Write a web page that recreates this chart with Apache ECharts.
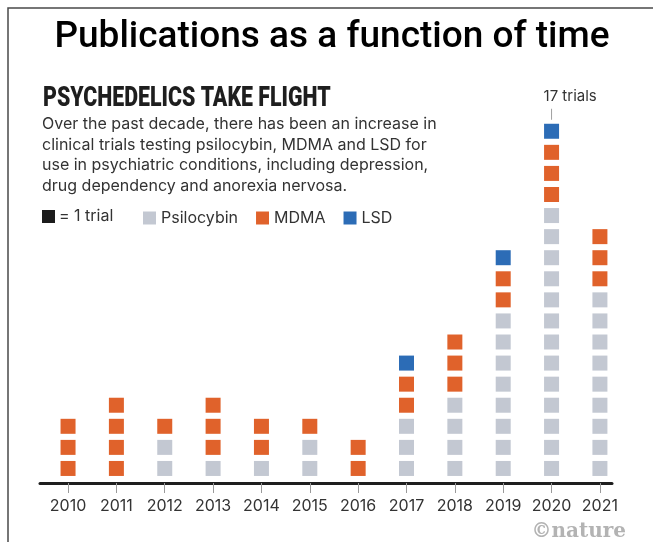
<!DOCTYPE html>
<html>
<head>
<meta charset="utf-8">
<title>Publications as a function of time</title>
<script src="https://cdn.jsdelivr.net/npm/echarts@6/dist/echarts.min.js"></script>
<style>
  html, body { margin: 0; padding: 0; background: #ffffff; }
  #chart { width: 653px; height: 542px; }
</style>
</head>
<body>
<div id="chart"></div>
<script>
// Clinical trials per year, one square per trial
const years = ['2010', '2011', '2012', '2013', '2014', '2015', '2016', '2017', '2018', '2019', '2020', '2021'];
const psilocybin = [0, 0, 2, 1, 1, 2, 0, 3, 4, 8, 13, 9];
const mdma = [3, 4, 1, 3, 2, 1, 2, 2, 3, 2, 3, 3];
const lsd = [0, 0, 0, 0, 0, 0, 0, 1, 0, 1, 1, 0];

const COLORS = { psilocybin: '#c3c8d2', mdma: '#e0622b', lsd: '#2c6cb6', unit: '#1c1c1c' };
const TEXT_FONT = 'Inter, "Noto Sans", sans-serif';
const SQUARE = 15;
const LIFT = 0.69; // centre of the bottom square above the baseline, in trial units

// stack squares for one drug on top of the drugs below it
function squares(counts, below) {
  const out = [];
  counts.forEach(function (n, i) {
    const base = below.reduce(function (s, arr) { return s + arr[i]; }, 0);
    for (let k = 0; k < n; k++) out.push([i, base + k + LIFT]);
  });
  return out;
}

const totals = years.map(function (_, i) { return psilocybin[i] + mdma[i] + lsd[i]; });
const peak = totals.indexOf(Math.max.apply(null, totals));

const chart = echarts.init(document.getElementById('chart'));

function squareSeries(name, data, color) {
  return {
    name: name,
    type: 'scatter',
    symbol: 'rect',
    symbolSize: SQUARE,
    data: data,
    itemStyle: { color: color, opacity: 1 },
    emphasis: { disabled: true },
    silent: true,
    z: 3
  };
}

chart.setOption({
  animation: false,
  backgroundColor: '#ffffff',
  grid: { left: 40, right: 41, top: 61.5, bottom: 59 },
  xAxis: {
    type: 'value',
    min: -0.58,
    max: 11.25,
    splitLine: { show: false },
    axisLine: { show: true, onZero: false, lineStyle: { color: '#1e1e1e', width: 3 } },
    axisTick: {
      show: true,
      customValues: years.map(function (_, i) { return i; }),
      length: 10,
      lineStyle: { color: '#9a9a9a', width: 1 }
    },
    axisLabel: {
      customValues: years.map(function (_, i) { return i; }),
      formatter: function (v) { return years[Math.round(v)]; },
      margin: 15,
      fontSize: 16,
      fontFamily: TEXT_FONT,
      color: '#333333'
    }
  },
  yAxis: {
    type: 'value',
    min: 0,
    max: 20,
    show: false,
    splitLine: { show: false }
  },
  legend: {
    left: 138,
    top: 205,
    icon: 'rect',
    itemWidth: 13,
    itemHeight: 13,
    itemGap: 18,
    selectedMode: false,
    textStyle: { fontSize: 16, fontFamily: TEXT_FONT, color: '#333333', padding: [0, 0, 0, 0] },
    data: ['Psilocybin', 'MDMA', 'LSD']
  },
  graphic: [
    // frame lines
    {
      type: 'polyline',
      shape: { points: [[8, 542], [8, 8], [653, 8]] },
      style: { stroke: '#4a4a4a', lineWidth: 1.5, fill: null },
      silent: true
    },
    {
      type: 'text',
      x: 332, y: 38,
      style: {
        text: 'Publications as a function of time',
        font: '500 37px Roboto, "Noto Sans", sans-serif',
        fill: '#000000',
        textAlign: 'center',
        textVerticalAlign: 'middle'
      }
    },
    {
      type: 'text',
      x: 43, y: 99,
      scaleX: 0.79,
      style: {
        text: 'PSYCHEDELICS TAKE FLIGHT',
        font: '900 27px Roboto, "Noto Sans", sans-serif',
        fill: '#1e1e1e',
        textAlign: 'left',
        textVerticalAlign: 'middle'
      }
    },
    {
      type: 'text',
      x: 42, y: 114,
      style: {
        text: 'Over the past decade, there has been an increase in\nclinical trials testing psilocybin, MDMA and LSD for\nuse in psychiatric conditions, including depression,\ndrug dependency and anorexia nervosa.',
        font: '400 16px ' + TEXT_FONT,
        lineHeight: 20.5,
        fill: '#333333',
        textAlign: 'left',
        textVerticalAlign: 'top'
      }
    },
    {
      type: 'rect',
      shape: { x: 42, y: 210, width: 13, height: 13 },
      style: { fill: COLORS.unit }
    },
    {
      type: 'text',
      x: 59, y: 216.5,
      style: {
        text: '= 1 trial',
        font: '400 16px ' + TEXT_FONT,
        fill: '#333333',
        textAlign: 'left',
        textVerticalAlign: 'middle'
      }
    },
    {
      type: 'text',
      x: 626, y: 532,
      style: {
        text: '©nature',
        font: '700 20px "DejaVu Serif", serif',
        fill: '#b3b3b3',
        textAlign: 'right',
        textVerticalAlign: 'middle'
      }
    }
  ],
  series: [
    squareSeries('Psilocybin', squares(psilocybin, []), COLORS.psilocybin),
    squareSeries('MDMA', squares(mdma, [psilocybin]), COLORS.mdma),
    squareSeries('LSD', squares(lsd, [psilocybin, mdma]), COLORS.lsd),
    {
      // callout above the tallest column
      type: 'custom',
      silent: true,
      data: [[peak, totals[peak]]],
      renderItem: function (params, api) {
        const p = api.coord([api.value(0), api.value(1) - 1 + LIFT]);
        const top = p[1] - SQUARE / 2;
        return {
          type: 'group',
          children: [
            {
              type: 'line',
              shape: { x1: p[0], y1: top - 15, x2: p[0], y2: top - 4 },
              style: { stroke: '#a0a0a0', lineWidth: 1 }
            },
            {
              type: 'text',
              style: {
                text: api.value(1) + ' trials',
                x: p[0] - 8,
                y: top - 27,
                font: '400 15px ' + TEXT_FONT,
                fill: '#333333',
                textAlign: 'left',
                textVerticalAlign: 'middle'
              }
            }
          ]
        };
      },
      z: 4
    }
  ]
});
</script>
</body>
</html>
